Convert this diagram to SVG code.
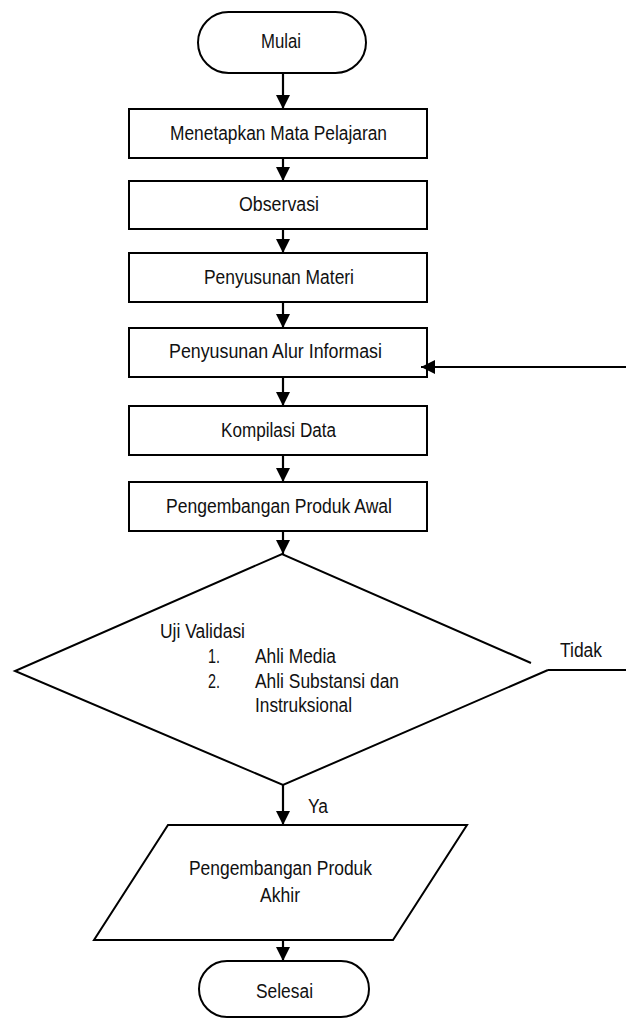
<svg xmlns="http://www.w3.org/2000/svg" width="626" height="1018" viewBox="0 0 626 1018">
<style>
.s{fill:#fff;stroke:#000;stroke-width:2}
.t{font-family:"Liberation Sans",Arial,sans-serif;font-size:19.5px;fill:#111}
.c{fill:none;stroke:#000;stroke-width:2.2}
</style>
<defs>
<marker id="ah" viewBox="0 0 14 14" refX="14" refY="7" markerWidth="14" markerHeight="14" markerUnits="userSpaceOnUse" orient="auto">
<path d="M0,0 L14,7 L0,14 Z" fill="#000"/>
</marker>
</defs>
<rect width="626" height="1018" fill="#fff"/>
<g id="mulai">
<rect class="s" x="198" y="12" width="168" height="61" rx="30.5" ry="30.5"/>
<text class="t" x="261" y="48" textLength="40" lengthAdjust="spacingAndGlyphs">Mulai</text>
</g>
<g id="menetapkan">
<rect class="s" x="129" y="109" width="298" height="49"/>
<text class="t" x="170" y="140" textLength="217" lengthAdjust="spacingAndGlyphs">Menetapkan Mata Pelajaran</text>
</g>
<g id="observasi">
<rect class="s" x="129" y="181" width="298" height="48"/>
<text class="t" x="239" y="211" textLength="80" lengthAdjust="spacingAndGlyphs">Observasi</text>
</g>
<g id="materi">
<rect class="s" x="129" y="253" width="298" height="49"/>
<text class="t" x="204" y="284" textLength="150" lengthAdjust="spacingAndGlyphs">Penyusunan Materi</text>
</g>
<g id="alur">
<rect class="s" x="129" y="328" width="298" height="49"/>
<text class="t" x="169" y="358" textLength="213" lengthAdjust="spacingAndGlyphs">Penyusunan Alur Informasi</text>
</g>
<g id="kompilasi">
<rect class="s" x="129" y="406" width="298" height="49"/>
<text class="t" x="221" y="437" textLength="115" lengthAdjust="spacingAndGlyphs">Kompilasi Data</text>
</g>
<g id="produk-awal">
<rect class="s" x="129" y="482" width="298" height="49"/>
<text class="t" x="166" y="513" textLength="226" lengthAdjust="spacingAndGlyphs">Pengembangan Produk Awal</text>
</g>
<g id="uji-validasi">
<path class="s" d="M531,663 L282,554 L15,671 L283,785 L548,670" stroke-linejoin="miter"/>
<text class="t" x="160" y="638" textLength="85" lengthAdjust="spacingAndGlyphs">Uji Validasi</text>
<text class="t" x="208" y="663" textLength="12" lengthAdjust="spacingAndGlyphs">1.</text>
<text class="t" x="255" y="663" textLength="81" lengthAdjust="spacingAndGlyphs">Ahli Media</text>
<text class="t" x="208" y="688" textLength="12" lengthAdjust="spacingAndGlyphs">2.</text>
<text class="t" x="255" y="688" textLength="144" lengthAdjust="spacingAndGlyphs">Ahli Substansi dan</text>
<text class="t" x="255" y="712" textLength="97" lengthAdjust="spacingAndGlyphs">Instruksional</text>
</g>
<g id="produk-akhir">
<polygon class="s" points="168,825 467,825 393,940 94,940"/>
<text class="t" x="189" y="875" textLength="183" lengthAdjust="spacingAndGlyphs">Pengembangan Produk</text>
<text class="t" x="260" y="902" textLength="40" lengthAdjust="spacingAndGlyphs">Akhir</text>
</g>
<g id="selesai">
<rect class="s" x="199" y="961" width="170" height="56" rx="28" ry="28"/>
<text class="t" x="256" y="998" textLength="57" lengthAdjust="spacingAndGlyphs">Selesai</text>
</g>
<g id="connectors">
<line class="c" x1="283" y1="73" x2="283" y2="109" marker-end="url(#ah)"/>
<line class="c" x1="283" y1="158" x2="283" y2="181" marker-end="url(#ah)"/>
<line class="c" x1="283" y1="229" x2="283" y2="253" marker-end="url(#ah)"/>
<line class="c" x1="283" y1="302" x2="283" y2="328" marker-end="url(#ah)"/>
<line class="c" x1="283" y1="377" x2="283" y2="406" marker-end="url(#ah)"/>
<line class="c" x1="283" y1="455" x2="283" y2="482" marker-end="url(#ah)"/>
<line class="c" x1="283" y1="531" x2="283" y2="554" marker-end="url(#ah)"/>
<line class="c" x1="283" y1="785" x2="283" y2="825" marker-end="url(#ah)"/>
<line class="c" x1="283" y1="940" x2="283" y2="961" marker-end="url(#ah)"/>
<line class="c" x1="626" y1="367" x2="421" y2="367" marker-end="url(#ah)"/>
<line class="c" x1="548" y1="670" x2="626" y2="670"/>
<text class="t" x="560" y="657" textLength="42" lengthAdjust="spacingAndGlyphs">Tidak</text>
<text class="t" x="308" y="813" textLength="20" lengthAdjust="spacingAndGlyphs">Ya</text>
</g>
</svg>
